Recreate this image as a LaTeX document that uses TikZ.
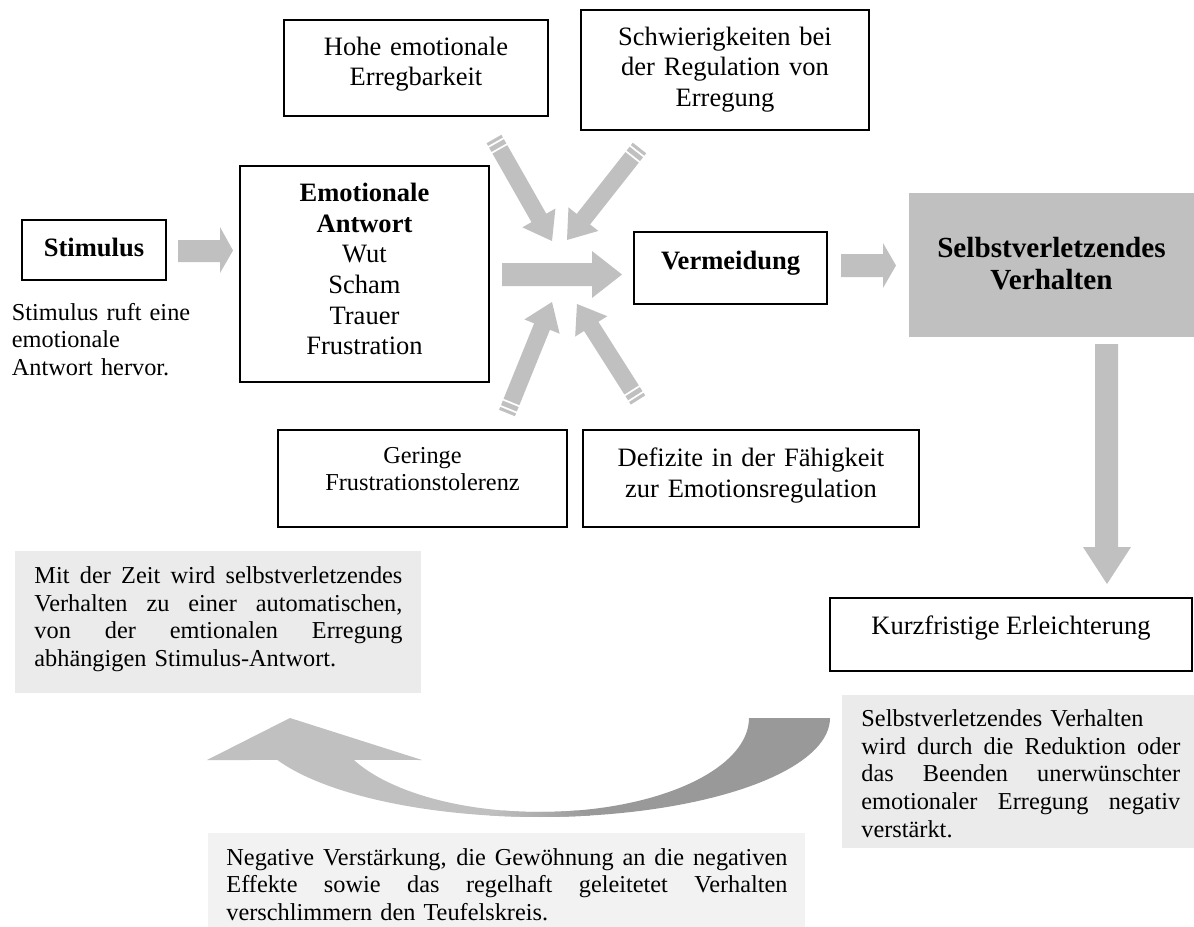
\documentclass[tikz,border=0pt]{standalone}
\usepackage{fontspec}
\setmainfont{Liberation Serif}
\usetikzlibrary{calc,fit}
\definecolor{agray}{HTML}{C0C0C0}
\definecolor{dgray}{HTML}{999999}
\definecolor{boxgray}{HTML}{EBEBEB}
\definecolor{boxgrayl}{HTML}{F2F2F2}
\newcommand\fsN{\fontsize{12}{13.85}\selectfont}
\newcommand\fsS{\fontsize{11}{12.5}\selectfont}
\newcommand\fsB{\fontsize{13.2}{14.5}\selectfont}
\newcommand\jl[2]{\leavevmode\hbox to #1{\spaceskip=0.25em plus 1fil\relax #2}}
% striped block arrow from tail #1 to tip #2
\newcommand\sarrow[2]{%
  \coordinate (sa) at ($(#1)!1.4pt!(#2)$);
  \coordinate (sb) at ($(#1)!2.3pt!(#2)$);
  \coordinate (sc) at ($(#1)!4.5pt!(#2)$);
  \coordinate (sd) at ($(#1)!5.4pt!(#2)$);
  \coordinate (sh) at ($(#2)!12pt!(#1)$);
  \fill[agray] ($(#1)!3.85pt!90:(#2)$) -- ($(sa)!3.85pt!90:(#2)$) -- ($(sa)!3.85pt!-90:(#2)$) -- ($(#1)!3.85pt!-90:(#2)$) -- cycle;
  \fill[agray] ($(sb)!3.85pt!90:(#2)$) -- ($(sc)!3.85pt!90:(#2)$) -- ($(sc)!3.85pt!-90:(#2)$) -- ($(sb)!3.85pt!-90:(#2)$) -- cycle;
  \fill[agray] ($(sd)!3.85pt!90:(#2)$) -- ($(sh)!3.85pt!90:(#2)$) -- ($(sh)!8.6pt!90:(#2)$) -- (#2) -- ($(sh)!8.6pt!-90:(#2)$) -- ($(sh)!3.85pt!-90:(#2)$) -- ($(sd)!3.85pt!-90:(#2)$) -- cycle;
}
\begin{document}
\begin{tikzpicture}[x=0.4525pt,y=-0.4525pt,
  frame/.style={draw=black, line width=1pt, inner sep=0pt},
  graybox/.style={inner sep=0pt, draw=none},
  txt/.style={inner sep=0pt, anchor=base, align=center, font=\fsN},
  ptxt/.style={inner sep=0pt, anchor=base west, align=left, font=\fsS}]
\useasboundingbox (0,0) rectangle (1194,927);
\fill[white] (0,0) rectangle (1194,927);

% boxes
\node[frame, line width=1.2pt, fit={(22,220)(166,280)}] (stimbox) {};
\node[frame, fit={(240,166)(489,382)}] (emobox) {};
\node[frame, fit={(284,20)(548,116)}] (hohebox) {};
\node[frame, fit={(581,10)(869,130)}] (schwbox) {};
\node[frame, fit={(634,232)(827,304)}] (vermbox) {};
\node[graybox, fill=agray, fit={(909,193)(1194,337)}] (svbox) {};
\node[frame, line width=1.2pt, fit={(278,430)(567,527)}] (gerbox) {};
\node[frame, fit={(583,430)(919,527)}] (defbox) {};
\node[frame, fit={(830,598)(1192,671)}] (kurzbox) {};
\node[graybox, fill=boxgray, fit={(15,551)(421,693)}] (g1box) {};
\node[graybox, fill=boxgray, fit={(842,695)(1194,848)}] (g2box) {};
\node[graybox, fill=boxgrayl, fit={(208,833)(805,927)}] (g3box) {};

% texts
\node[txt, font=\fsN\bfseries] (stimtxt) at (94,256.7) {Stimulus};
\node[txt, text width=112pt] (emotxt) at (364.5,201.7) {\textbf{Emotionale}\\\textbf{Antwort}\\Wut\\Scham\\Trauer\\Frustration};
\node[txt, text width=118pt] (hohetxt) at (416,55) {Hohe emotionale\\Erregbarkeit};
\node[txt, text width=128pt] (schwtxt) at (725,45) {Schwierigkeiten bei\\der Regulation von\\Erregung};
\node[txt, font=\fsN\bfseries] (vermtxt) at (730.5,269.3) {Vermeidung};
\node[txt, font=\fsB\bfseries, text width=128pt] (svtxt) at (1051.5,257.3) {Selbstverletzendes\\Verhalten};
\node[txt, font=\fsS, text width=128pt] (gertxt) at (422.5,463) {Geringe\\Frustrationstolerenz};
\node[txt, text width=150pt] (deftxt) at (751,466.5) {Defizite in der Fähigkeit\\zur Emotionsregulation};
\node[txt] (kurztxt) at (1011,634) {Kurzfristige Erleichterung};
\node[ptxt, text width=90pt] (lefttxt) at (11.5,320) {Stimulus ruft eine\\emotionale\\Antwort hervor.};
\node[ptxt, text width=166.5pt] (g1txt) at (34,583.5) {\jl{166.5pt}{Mit der Zeit wird selbstverletzendes}\\\jl{166.5pt}{Verhalten zu einer automatischen,}\\\jl{166.5pt}{von der emtionalen Erregung}\\abhängigen Stimulus-Antwort.};
\node[ptxt, text width=144.3pt] (g2txt) at (861,726.5) {Selbstverletzendes Verhalten\\\jl{144.3pt}{wird durch die Reduktion oder}\\\jl{144.3pt}{das Beenden unerwünschter}\\\jl{144.3pt}{emotionaler Erregung negativ}\\verstärkt.};
\node[ptxt, text width=253.9pt] (g3txt) at (226,865) {\jl{253.9pt}{Negative Verstärkung, die Gewöhnung an die negativen}\\\jl{253.9pt}{Effekte sowie das regelhaft geleitetet Verhalten}\\verschlimmern den Teufelskreis.};

% straight block arrows
\fill[agray] (178,240) -- (220,240) -- (220,227) -- (233,250.5) -- (220,273) -- (220,262) -- (178,262) -- cycle;
\fill[agray] (502,263) -- (592,263) -- (592,251) -- (622,274.5) -- (592,298) -- (592,286) -- (502,286) -- cycle;
\fill[agray] (841,254) -- (883,254) -- (883,243) -- (896,265.5) -- (883,288) -- (883,277) -- (841,277) -- cycle;
\fill[agray] (1095,344) -- (1118,344) -- (1118,547) -- (1131,547) -- (1107,584) -- (1083,547) -- (1095,547) -- cycle;

% striped diagonal arrows
\coordinate (ulT) at (494,139); \coordinate (ulH) at (552,241);
\coordinate (urT) at (639.5,148); \coordinate (urH) at (567,240);
\coordinate (llT) at (507,413); \coordinate (llH) at (552,302);
\coordinate (lrT) at (638,400); \coordinate (lrH) at (577,304);
\sarrow{ulT}{ulH}
\sarrow{urT}{urH}
\sarrow{llT}{llH}
\sarrow{lrT}{lrH}

% curved arrow
\fill[agray] plot[domain=90:154.9,samples=40] ({540+290*cos(\x)},{718+99*sin(\x)}) -- (207,760) -- (290,718) -- (422,760) -- plot[domain=153.5:90,samples=40] ({540+208*cos(\x)},{718+94*sin(\x)}) -- cycle;
\fill[dgray] plot[domain=0:90,samples=40] ({540+290*cos(\x)},{718+99*sin(\x)}) -- plot[domain=90:0,samples=40] ({540+209*cos(\x)},{718+94*sin(\x)}) -- cycle;
\shade[left color=agray, right color=dgray] plot[domain=80:100,samples=10] ({540+290*cos(\x)},{718+99*sin(\x)}) -- plot[domain=100:80,samples=10] ({540+208.5*cos(\x)},{718+94*sin(\x)}) -- cycle;
\end{tikzpicture}
\end{document}
